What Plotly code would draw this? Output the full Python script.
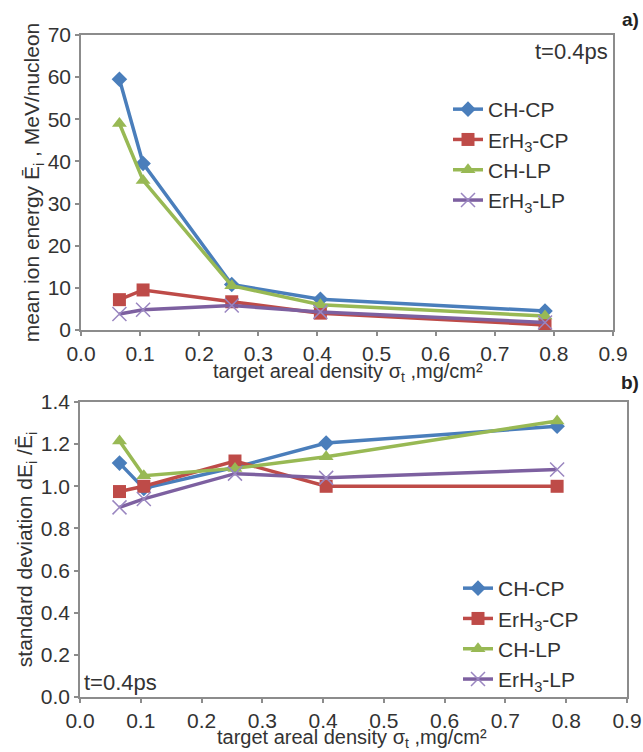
import plotly.graph_objects as go

x_density = [0.065, 0.105, 0.255, 0.405, 0.785]

series_names = ["CH-CP", "ErH<sub>3</sub>-CP", "CH-LP", "ErH<sub>3</sub>-LP"]

energy_ch_cp = [59.5, 39.5, 10.8, 7.3, 4.5]
energy_erh3_cp = [7.2, 9.5, 6.7, 4.0, 1.2]
energy_ch_lp = [49.0, 35.5, 10.5, 6.0, 3.3]
energy_erh3_lp = [3.8, 4.8, 5.8, 4.3, 1.8]

sd_ch_cp = [1.11, 0.99, 1.09, 1.205, 1.285]
sd_erh3_cp = [0.975, 1.0, 1.12, 1.0, 1.0]
sd_ch_lp = [1.215, 1.05, 1.085, 1.14, 1.31]
sd_erh3_lp = [0.9, 0.94, 1.06, 1.04, 1.08]

x_ticks = [0.0, 0.1, 0.2, 0.3, 0.4, 0.5, 0.6, 0.7, 0.8, 0.9]
y1_ticks = [0, 10, 20, 30, 40, 50, 60, 70]
y2_ticks = [0.0, 0.2, 0.4, 0.6, 0.8, 1.0, 1.2, 1.4]

colors = ["#4A7EBB", "#BE4B48", "#98B954", "#7D60A0"]
symbols = ["diamond", "square", "triangle-up", "x-thin"]
sizes = [12, 13, 13, 14]

FONT = "Arial, Liberation Sans, sans-serif"
TXT = "#333333"
AX = "#8c8c8c"

fig = go.Figure()

top_sets = [energy_ch_cp, energy_erh3_cp, energy_ch_lp, energy_erh3_lp]
bot_sets = [sd_ch_cp, sd_erh3_cp, sd_ch_lp, sd_erh3_lp]


def marker_for(i):
    m = dict(symbol=symbols[i], size=sizes[i], color=colors[i])
    if symbols[i] == "x-thin":
        m["line"] = dict(width=1.5, color="#9A86C0")
    return m


for i, ys in enumerate(top_sets):
    fig.add_trace(go.Scatter(
        x=x_density, y=ys, mode="lines+markers", name=series_names[i],
        line=dict(color=colors[i], width=3.5), marker=marker_for(i),
        xaxis="x", yaxis="y", legend="legend"))

for i, ys in enumerate(bot_sets):
    fig.add_trace(go.Scatter(
        x=x_density, y=ys, mode="lines+markers", name=series_names[i],
        line=dict(color=colors[i], width=3.5), marker=marker_for(i),
        xaxis="x2", yaxis="y2", legend="legend2"))

W, H = 643, 752


def px_x(p):
    return p / W


def px_y(p):
    return 1 - p / H


axis_common = dict(
    showline=True, linecolor=AX, linewidth=1.5, mirror=True,
    ticks="outside", tickcolor=AX, ticklen=4, tickwidth=1.5,
    showgrid=False, zeroline=False, automargin=False,
    tickfont=dict(family=FONT, size=21, color=TXT),
)

xtitle = "target areal density σ<sub>t</sub> ,mg/cm²"
TS = 21
XTS = 20

fig.update_layout(
    width=W, height=H,
    margin=dict(l=0, r=0, t=0, b=0),
    paper_bgcolor="white", plot_bgcolor="white",
    font=dict(family=FONT, color=TXT),
    xaxis=dict(domain=[px_x(81), px_x(613)], range=[0, 0.9], tickvals=x_ticks,
               tickformat=".1f", anchor="y",
               **axis_common),
    yaxis=dict(domain=[px_y(330), px_y(35)], range=[0, 70], tickvals=y1_ticks, anchor="x",
               title=dict(text="mean ion energy Ē<sub>i</sub> , MeV/nucleon",
                          font=dict(family=FONT, size=TS, color=TXT), standoff=2),
               **axis_common),
    xaxis2=dict(domain=[px_x(80), px_x(627)], range=[0, 0.9], tickvals=x_ticks,
                tickformat=".1f", anchor="y2",
                **axis_common),
    yaxis2=dict(domain=[px_y(697), px_y(402)], range=[0, 1.4], tickvals=y2_ticks,
                tickformat=".1f", anchor="x2",
                title=dict(text="standard deviation dE<sub>i</sub> /Ē<sub>i</sub>",
                           font=dict(family=FONT, size=TS, color=TXT), standoff=2),
                **axis_common),
    legend=dict(x=px_x(448), y=px_y(89), xanchor="left", yanchor="top",
                bgcolor="rgba(0,0,0,0)", font=dict(family=FONT, size=21, color=TXT),
                tracegroupgap=0, itemwidth=30),
    legend2=dict(x=px_x(458), y=px_y(568), xanchor="left", yanchor="top",
                 bgcolor="rgba(0,0,0,0)", font=dict(family=FONT, size=21, color=TXT),
                 tracegroupgap=0, itemwidth=30),
    showlegend=True,
)

# axis titles placed as annotations for precise positioning
fig.add_annotation(x=px_x(348), y=px_y(372), xref="paper", yref="paper",
                   text=xtitle, showarrow=False, xanchor="center", yanchor="middle",
                   font=dict(family=FONT, size=XTS, color=TXT))
fig.add_annotation(x=px_x(352), y=px_y(738), xref="paper", yref="paper",
                   text=xtitle, showarrow=False, xanchor="center", yanchor="middle",
                   font=dict(family=FONT, size=XTS, color=TXT))

fig.add_annotation(x=px_x(610), y=px_y(51), xref="paper", yref="paper",
                   text="t=0.4ps", showarrow=False, xanchor="right", yanchor="middle",
                   font=dict(family=FONT, size=22, color=TXT))
fig.add_annotation(x=px_x(82), y=px_y(682), xref="paper", yref="paper",
                   text="t=0.4ps", showarrow=False, xanchor="left", yanchor="middle",
                   font=dict(family=FONT, size=22, color=TXT))
fig.add_annotation(x=px_x(641), y=px_y(20), xref="paper", yref="paper",
                   text="<b>a)</b>", showarrow=False, xanchor="right", yanchor="middle",
                   font=dict(family=FONT, size=19, color="#222222"))
fig.add_annotation(x=px_x(641), y=px_y(382), xref="paper", yref="paper",
                   text="<b>b)</b>", showarrow=False, xanchor="right", yanchor="middle",
                   font=dict(family=FONT, size=19, color="#222222"))

fig.write_html("out.html")
